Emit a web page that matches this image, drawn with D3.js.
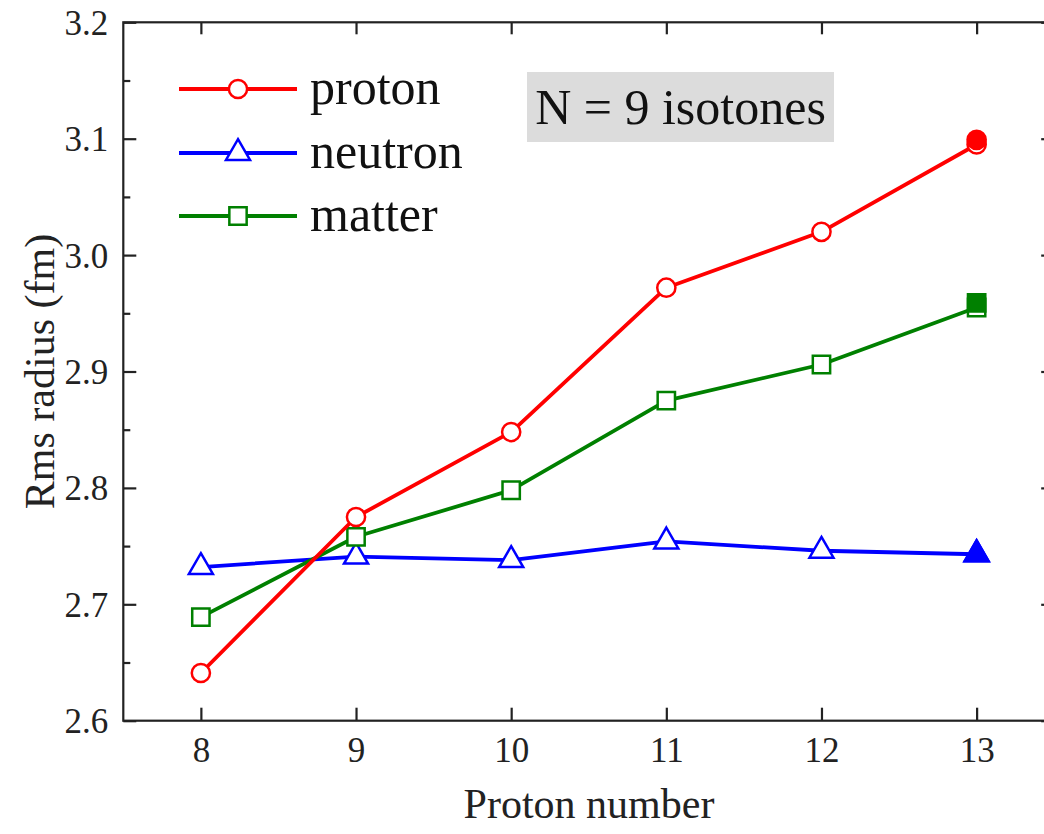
<!DOCTYPE html>
<html>
<head>
<meta charset="utf-8">
<script src="https://cdn.jsdelivr.net/npm/d3@7"></script>
<style>
  html, body { margin: 0; padding: 0; background: #fff; }
  svg { display: block; }
  svg text { font-family: "Liberation Serif", Tinos, "Times New Roman", Times, "DejaVu Serif", serif; }
</style>
</head>
<body>
<svg id="chart" width="1044" height="834"></svg>
<script>
// ---- data ----
const protonNumbers = [8, 9, 10, 11, 12, 13];
const protonRadius  = [2.641, 2.775, 2.848, 2.972, 3.020, 3.095];
const neutronRadius = [2.732, 2.741, 2.738, 2.754, 2.746, 2.743];
const matterRadius  = [2.689, 2.758, 2.798, 2.875, 2.906, 2.955];
// filled points (Z = 13)
const filledZ = [13];
const protonFilled  = [3.099];
const neutronFilled = [2.743];
const matterFilled  = [2.959];

const seriesNames = ["proton", "neutron", "matter"];
const seriesColors = ["#ff0000", "#0000ff", "#008000"];
const xTicks = [8, 9, 10, 11, 12, 13];
const yTicks = [2.6, 2.7, 2.8, 2.9, 3.0, 3.1, 3.2];
const yMinorTicks = [2.65, 2.75, 2.85, 2.95, 3.05, 3.15];
const xLabel = "Proton number";
const yLabel = "Rms radius (fm)";
const annotation = "N = 9 isotones";

// ---- layout ----
const svg = d3.select("#chart");
const pL = 123.3, pR = 1054.2, pT = 22.3, pB = 720.7;
const x = d3.scaleLinear().domain([7.5, 13.5]).range([pL, pR]);
const y = d3.scaleLinear().domain([2.6, 3.2]).range([pB, pT]);
const axisColor = "#222";
const serif = '"Liberation Serif", Tinos, "Times New Roman", Times, "DejaVu Serif", serif';

// axes
function styleAxis(g) {
  g.attr("font-family", null);
  g.select(".domain").remove();
  g.selectAll(".tick line").attr("stroke", axisColor).attr("stroke-width", 2.2);
  g.selectAll(".tick text").attr("fill", "#222").style("font-family", serif);
}
svg.append("g").attr("transform", `translate(${pL},0)`)
  .call(d3.axisLeft(y).tickValues(yTicks).tickSize(-13).tickPadding(15).tickFormat(d3.format(".1f")))
  .call(styleAxis)
  .call(g => g.selectAll(".tick text").style("font-size", "35px").attr("dy", "0.34em"));
svg.append("g").attr("transform", `translate(${pL},0)`)
  .call(d3.axisLeft(y).tickValues(yMinorTicks).tickSize(-7).tickFormat(""))
  .call(styleAxis);
svg.append("g").attr("transform", `translate(${pR},0)`)
  .call(d3.axisRight(y).tickValues(yTicks).tickSize(-13).tickFormat(""))
  .call(styleAxis);
svg.append("g").attr("transform", `translate(${pR},0)`)
  .call(d3.axisRight(y).tickValues(yMinorTicks).tickSize(-7).tickFormat(""))
  .call(styleAxis);
svg.append("g").attr("transform", `translate(0,${pB})`)
  .call(d3.axisBottom(x).tickValues(xTicks).tickSize(-13).tickPadding(16).tickFormat(d3.format("d")))
  .call(styleAxis)
  .call(g => g.selectAll(".tick text").style("font-size", "35px").attr("dy", "0.71em"));
svg.append("g").attr("transform", `translate(0,${pT})`)
  .call(d3.axisTop(x).tickValues(xTicks).tickSize(-12).tickFormat(""))
  .call(styleAxis);

// frame
svg.append("rect")
  .attr("x", pL).attr("y", pT)
  .attr("width", pR - pL).attr("height", pB - pT)
  .attr("fill", "none").attr("stroke", axisColor).attr("stroke-width", 2.2);

// axis titles
svg.append("text")
  .attr("x", 589).attr("y", 818)
  .attr("text-anchor", "middle")
  .style("font-family", serif).style("font-size", "42px").attr("fill", "#222")
  .text(xLabel);
svg.append("text")
  .attr("transform", `translate(54,${(pT + pB) / 2}) rotate(-90)`)
  .attr("text-anchor", "middle")
  .style("font-family", serif).style("font-size", "42px").attr("fill", "#222")
  .text(yLabel);

// annotation box
svg.append("rect")
  .attr("x", 527).attr("y", 72).attr("width", 307).attr("height", 70)
  .attr("fill", "#dcdcdc");
svg.append("text")
  .attr("x", 680.5).attr("y", 124)
  .attr("text-anchor", "middle")
  .style("font-family", serif).style("font-size", "50px").attr("fill", "#111")
  .text(annotation);

// series
const symbols = [d3.symbolCircle, d3.symbolTriangle, d3.symbolSquare];
const symSizes = [260, 250, 300];
const values = [protonRadius, neutronRadius, matterRadius];
const filledValues = [protonFilled, neutronFilled, matterFilled];
const drawOrder = [1, 2, 0];
const line = d3.line().x(d => x(d[0])).y(d => y(d[1]));

drawOrder.forEach(i => {
  const pts = protonNumbers.map((z, k) => [z, values[i][k]]);
  const g = svg.append("g");
  g.append("path").datum(pts)
    .attr("d", line).attr("fill", "none")
    .attr("stroke", seriesColors[i]).attr("stroke-width", 3.8)
    .attr("stroke-linejoin", "round");
  g.selectAll("path.sym").data(pts).join("path").attr("class", "sym")
    .attr("d", d3.symbol(symbols[i], symSizes[i]))
    .attr("transform", d => `translate(${x(d[0])},${y(d[1])})`)
    .attr("fill", "#fff").attr("stroke", seriesColors[i]).attr("stroke-width", 2.5);
  const fpts = filledZ.map((z, k) => [z, filledValues[i][k]]);
  g.selectAll("path.fsym").data(fpts).join("path").attr("class", "fsym")
    .attr("d", d3.symbol(symbols[i], symSizes[i]))
    .attr("transform", d => `translate(${x(d[0])},${y(d[1])})`)
    .attr("fill", seriesColors[i]).attr("stroke", seriesColors[i]).attr("stroke-width", 2.5);
});

// legend
const legendX1 = 179, legendX2 = 297, legendTextX = 310;
const legendYs = [89, 153, 216];
seriesNames.forEach((name, i) => {
  const g = svg.append("g");
  const ly = legendYs[i];
  g.append("line").attr("x1", legendX1).attr("x2", legendX2).attr("y1", ly).attr("y2", ly)
    .attr("stroke", seriesColors[i]).attr("stroke-width", 3.8);
  g.append("path").attr("d", d3.symbol(symbols[i], symSizes[i]))
    .attr("transform", `translate(${(legendX1 + legendX2) / 2},${ly})`)
    .attr("fill", "#fff").attr("stroke", seriesColors[i]).attr("stroke-width", 2.5);
  g.append("text").attr("x", legendTextX).attr("y", ly + 15)
    .style("font-family", serif).style("font-size", "50px").attr("fill", "#111")
    .text(name);
});
</script>
</body>
</html>
